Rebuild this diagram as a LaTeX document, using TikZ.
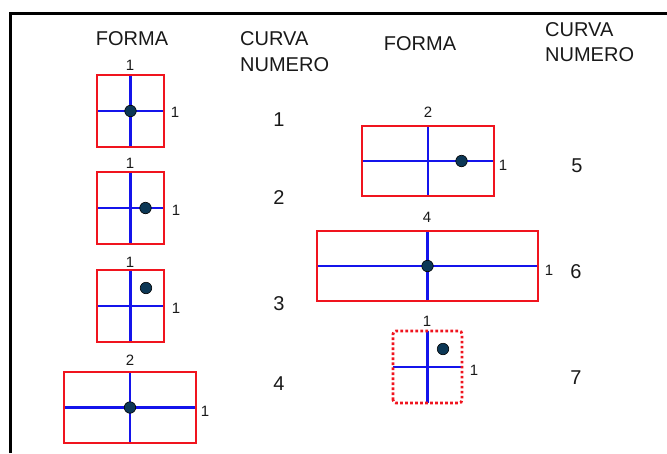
\documentclass[tikz,border=0pt]{standalone}
\usepackage{fontspec}
\setmainfont{Liberation Sans}
\definecolor{boxred}{RGB}{240,20,30}
\definecolor{axblue}{RGB}{20,20,235}
\definecolor{dotnavy}{RGB}{12,55,85}
\begin{document}
\begin{tikzpicture}[x=1pt,y=-1pt,
  frame/.style={line width=3.6pt,black},
  cell/.style={inner sep=0pt,outer sep=0pt},
  redbox/.style={draw=boxred,line width=2.8pt},
  reddot/.style={draw=boxred,line width=2.8pt,dash pattern=on 2.6pt off 2.4pt,rounded corners=3pt},
  axis/.style={draw=axblue,line width=2.6pt},
  cg/.style={circle,fill=dotnavy,draw=black,line width=0.6pt,minimum size=11.5pt,inner sep=0pt},
  hdr/.style={font=\fontsize{20}{22}\selectfont,inner sep=0pt,text=black!90},
  lbl/.style={font=\fontsize{15}{17}\selectfont,inner sep=0pt,text=black!90},
  num/.style={font=\fontsize{20}{22}\selectfont,inner sep=0pt,text=black!90}]
\useasboundingbox (0,0) rectangle (667,453);
% frame
\coordinate (fa) at (10.5,453);
\coordinate (fb) at (10.5,13.5);
\coordinate (fc) at (667,13.5);
\draw[frame] (fa) -- (fb) -- (fc);
% headers
\node[hdr] (hf1) at (132,39) {FORMA};
\node[hdr,anchor=base west] (hc1) at (240,45) {CURVA};
\node[hdr,anchor=base west] (hn1) at (240,71) {NUMERO};
\node[hdr] (hf2) at (420,44) {FORMA};
\node[hdr,anchor=base west] (hc2) at (545,36) {CURVA};
\node[hdr,anchor=base west] (hn2) at (545,61) {NUMERO};
% boxes
\node[cell,minimum width=67pt,minimum height=72pt] (b1) at (130.5,111) {};
\node[cell,minimum width=67pt,minimum height=72pt] (b2) at (130.5,208) {};
\node[cell,minimum width=67pt,minimum height=72pt] (b3) at (130.5,306) {};
\node[cell,minimum width=132pt,minimum height=71pt] (b4) at (130,407.5) {};
\node[cell,minimum width=132pt,minimum height=70pt] (b5) at (428,161) {};
\node[cell,minimum width=221pt,minimum height=70pt] (b6) at (427.5,266) {};
\node[cell,minimum width=69pt,minimum height=72pt] (b7) at (427.5,367) {};
\foreach \b in {b1,b2,b3,b4,b5,b6,b7}{
  \draw[axis] (\b.north) -- (\b.south);
  \draw[axis] (\b.west) -- (\b.east);
}
\foreach \b in {b1,b2,b3,b4,b5,b6}{
  \draw[redbox] (\b.south west) rectangle (\b.north east);
}
\draw[reddot] (b7.south west) rectangle (b7.north east);
% centroids
\node[cg] (d1) at (b1.center) {};
\node[cg] (d2) at (145.5,208) {};
\node[cg] (d3) at (146,288) {};
\node[cg] (d4) at (b4.center) {};
\node[cg] (d5) at (461.5,161) {};
\node[cg] (d6) at (b6.center) {};
\node[cg] (d7) at (443,349) {};
% dimension labels
\node[lbl] (t1) at (130,65) {1};
\node[lbl] (r1) at (175,112) {1};
\node[lbl] (t2) at (130,163) {1};
\node[lbl] (r2) at (176,210) {1};
\node[lbl] (t3) at (130,262) {1};
\node[lbl] (r3) at (176,308) {1};
\node[lbl] (t4) at (130,360) {2};
\node[lbl] (r4) at (205,411) {1};
\node[lbl] (t5) at (428,112) {2};
\node[lbl] (r5) at (503,165) {1};
\node[lbl] (t6) at (427,217) {4};
\node[lbl] (r6) at (549,270) {1};
\node[lbl] (t7) at (427,321) {1};
\node[lbl] (r7) at (474,370) {1};
% curve numbers
\node[num] (n1) at (279,120) {1};
\node[num] (n2) at (279,198) {2};
\node[num] (n3) at (279,304) {3};
\node[num] (n4) at (279,384) {4};
\node[num] (n5) at (577,166) {5};
\node[num] (n6) at (576,272) {6};
\node[num] (n7) at (576,378) {7};
\end{tikzpicture}
\end{document}
